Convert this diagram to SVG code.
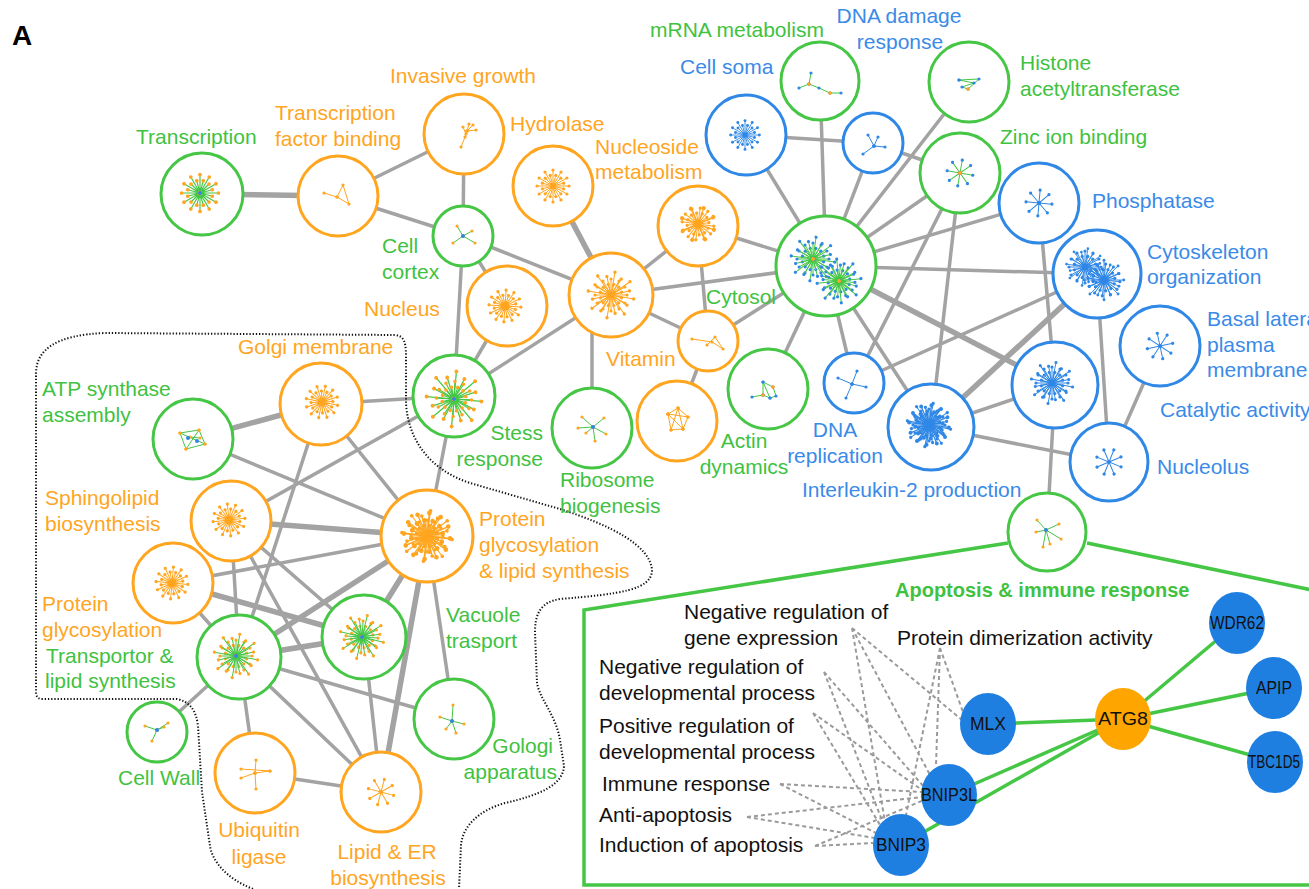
<svg xmlns="http://www.w3.org/2000/svg" width="1309" height="889" viewBox="0 0 1309 889">
<style>
text{font-family:"Liberation Sans",Arial,sans-serif}
.e{stroke:#A3A3A3;stroke-width:3.5;fill:none;stroke-linecap:round}
.et{stroke-width:5.5}
.nc{fill:#fff;stroke-width:3}
.o{stroke:#FFA51F}.g{stroke:#45C645}.b{stroke:#2F87E6}
.l{font-size:21px}
.m{text-anchor:middle}.r{text-anchor:end}
.lo{fill:#FFA51F}.lg{fill:#3FC23F}.lb{fill:#3A8AE8}
.k{font-size:21px;fill:#111}
.gn{font-size:18px;fill:#111;text-anchor:middle}
.so{fill:none;stroke:#FFA51F;stroke-width:1;marker-start:url(#mo);marker-mid:url(#mo);marker-end:url(#mo)}
.sb{fill:none;stroke:#2F87E6;stroke-width:1;marker-start:url(#mb);marker-mid:url(#mb);marker-end:url(#mb)}
.sgo{fill:none;stroke:#45C645;stroke-width:1;marker-start:url(#mo);marker-mid:url(#mo);marker-end:url(#mo)}
.sgb{fill:none;stroke:#45C645;stroke-width:1;marker-start:url(#mb);marker-mid:url(#mb);marker-end:url(#mb)}
.cb{fill:#2F87E6}.co{fill:#FFA51F}
.dash{stroke:#9A9A9A;stroke-width:2;stroke-dasharray:4 3;fill:none}
.ge{stroke:#45C645;stroke-width:3.5;fill:none}
.gnb{fill:#1F7FE0}.gno{fill:#FFA500}
</style>
<defs>
<marker id="mo" markerUnits="userSpaceOnUse" markerWidth="4" markerHeight="4" refX="2" refY="2"><circle cx="2" cy="2" r="1.6" fill="#FFA51F"/></marker>
<marker id="mb" markerUnits="userSpaceOnUse" markerWidth="4" markerHeight="4" refX="2" refY="2"><circle cx="2" cy="2" r="1.6" fill="#2F87E6"/></marker>
<path id="s24" d="M0,0l16,0M0,0l10.6,2.8M0,0l13.9,8M0,0l7.8,7.8M0,0l8,13.9M0,0l2.8,10.6M0,0l0,16M0,0l-2.8,10.6M0,0l-8,13.9M0,0l-7.8,7.8M0,0l-13.9,8M0,0l-10.6,2.8M0,0l-16,0M0,0l-10.6,-2.8M0,0l-13.9,-8M0,0l-7.8,-7.8M0,0l-8,-13.9M0,0l-2.8,-10.6M0,0l0,-16M0,0l2.8,-10.6M0,0l8,-13.9M0,0l7.8,-7.8M0,0l13.9,-8M0,0l10.6,-2.8"/>
<path id="s16" d="M0,0l22,0M0,0l16.6,6.9M0,0l15.6,15.6M0,0l6.9,16.6M0,0l0,22M0,0l-6.9,16.6M0,0l-15.6,15.6M0,0l-16.6,6.9M0,0l-22,0M0,0l-16.6,-6.9M0,0l-15.6,-15.6M0,0l-6.9,-16.6M0,0l0,-22M0,0l6.9,-16.6M0,0l15.6,-15.6M0,0l16.6,-6.9"/>
<path id="s8" d="M0,0l13,0M0,0l9.2,9.2M0,0l0,13M0,0l-9.2,9.2M0,0l-13,0M0,0l-9.2,-9.2M0,0l0,-13M0,0l9.2,-9.2"/>
</defs>
<rect width="1309" height="889" fill="#fff"/>
<text x="12" y="45" font-size="28" font-weight="bold" fill="#000">A</text>

<g id="connectors">
<line class="e" x1="338" y1="196" x2="464" y2="134"/>
<line class="e" x1="338" y1="196" x2="463" y2="236"/>
<line class="e" x1="464" y1="134" x2="463" y2="236"/>
<line class="e" x1="463" y1="236" x2="507" y2="306"/>
<line class="e" x1="463" y1="236" x2="611" y2="295"/>
<line class="e" x1="463" y1="236" x2="454" y2="396"/>
<line class="e" x1="507" y1="306" x2="454" y2="396"/>
<line class="e" x1="698" y1="226" x2="611" y2="295"/>
<line class="e" x1="698" y1="226" x2="826" y2="266"/>
<line class="e" x1="698" y1="226" x2="708" y2="341"/>
<line class="e" x1="611" y1="295" x2="708" y2="341"/>
<line class="e" x1="611" y1="295" x2="454" y2="396"/>
<line class="e" x1="592" y1="300" x2="592" y2="428"/>
<line class="e" x1="611" y1="295" x2="826" y2="266"/>
<line class="e" x1="708" y1="341" x2="677" y2="421"/>
<line class="e" x1="708" y1="341" x2="826" y2="266"/>
<line class="e" x1="826" y1="266" x2="768" y2="389"/>
<line class="e" x1="826" y1="266" x2="746" y2="135"/>
<line class="e" x1="826" y1="266" x2="820" y2="81"/>
<line class="e" x1="826" y1="266" x2="873" y2="143"/>
<line class="e" x1="826" y1="266" x2="969" y2="82"/>
<line class="e" x1="826" y1="266" x2="960" y2="173"/>
<line class="e" x1="826" y1="266" x2="1039" y2="203"/>
<line class="e" x1="826" y1="266" x2="1097" y2="274"/>
<line class="e" x1="826" y1="266" x2="854" y2="383"/>
<line class="e" x1="826" y1="266" x2="931" y2="427"/>
<line class="e" x1="746" y1="135" x2="873" y2="143"/>
<line class="e" x1="873" y1="143" x2="960" y2="173"/>
<line class="e" x1="960" y1="173" x2="854" y2="383"/>
<line class="e" x1="960" y1="173" x2="931" y2="427"/>
<line class="e" x1="1039" y1="203" x2="1055" y2="385"/>
<line class="e" x1="1097" y1="274" x2="854" y2="383"/>
<line class="e" x1="1097" y1="274" x2="1109" y2="462"/>
<line class="e" x1="1160" y1="346" x2="1109" y2="462"/>
<line class="e" x1="931" y1="427" x2="1055" y2="385"/>
<line class="e" x1="931" y1="427" x2="1109" y2="462"/>
<line class="e" x1="1055" y1="385" x2="1047" y2="532"/>
<line class="e" x1="454" y1="396" x2="321" y2="404"/>
<line class="e" x1="454" y1="396" x2="231" y2="521"/>
<line class="e" x1="454" y1="396" x2="427" y2="536"/>
<line class="e" x1="193" y1="439" x2="427" y2="536"/>
<line class="e" x1="321" y1="404" x2="427" y2="536"/>
<line class="e" x1="321" y1="404" x2="239" y2="657"/>
<line class="e" x1="231" y1="521" x2="364" y2="637"/>
<line class="e" x1="231" y1="521" x2="381" y2="792"/>
<line class="e" x1="231" y1="521" x2="239" y2="657"/>
<line class="e" x1="173" y1="583" x2="427" y2="536"/>
<line class="e" x1="173" y1="583" x2="239" y2="657"/>
<line class="e" x1="239" y1="657" x2="454" y2="719"/>
<line class="e" x1="239" y1="657" x2="157" y2="732"/>
<line class="e" x1="239" y1="657" x2="255" y2="773"/>
<line class="e" x1="239" y1="657" x2="381" y2="792"/>
<line class="e" x1="427" y1="536" x2="454" y2="719"/>
<line class="e" x1="364" y1="637" x2="381" y2="792"/>
<line class="e" x1="255" y1="773" x2="381" y2="792"/>
<line class="e et" x1="202" y1="194" x2="338" y2="196"/>
<line class="e et" x1="553" y1="186" x2="611" y2="295"/>
<line class="e et" x1="321" y1="404" x2="193" y2="439"/>
<line class="e et" x1="231" y1="521" x2="427" y2="536"/>
<line class="e et" x1="173" y1="583" x2="364" y2="637"/>
<line class="e et" x1="239" y1="657" x2="427" y2="536"/>
<line class="e et" x1="239" y1="657" x2="364" y2="637"/>
<line class="e et" x1="427" y1="536" x2="381" y2="792"/>
<line class="e et" x1="427" y1="536" x2="364" y2="637"/>
<line class="e et" x1="826" y1="266" x2="1055" y2="385"/>
<line class="e et" x1="1097" y1="274" x2="931" y2="427"/>
</g>

<path id="cluster-boundary" d="M253,889 C225,878 212,860 210,846 L202,792 L198,726 C196,710 190,702 177,699 L42,699 C37,699 36,696 36,690 L36,374 C36,350 55,335 105,333 L395,335 C403,336 406,340 406,356 L406,403 C408,440 430,470 470,483 L560,509 C610,525 650,545 652,570 C652,590 620,594 560,599 C540,602 535,615 535,632 L537,683 C540,700 556,715 560,740 L564,766 C563,785 540,795 505,803 C480,810 463,825 461,845 L459,889" fill="none" stroke="#111" stroke-width="2" stroke-dasharray="1.3 1.9"/>

<g id="n-transcription"><circle class="nc g" cx="202" cy="194" r="41"/><use href="#s24" class="sgo" transform="translate(200,193) scale(1.15)"/><circle class="cb" cx="200" cy="193" r="2"/><text class="l lg" x="136" y="144">Transcription</text></g>
<g id="n-tf-binding"><circle class="nc o" cx="338" cy="196" r="40"/><path class="so" d="M324,193L337,197L343,185L349,204L337,197"/><text class="l lo" x="275" y="120">Transcription</text><text class="l lo" x="275" y="146">factor binding</text></g>
<g id="n-invasive"><circle class="nc o" cx="464" cy="134" r="40"/><path class="so" d="M461,147L465,137L467,131L473,125M467,131L469,124M466,134L463,127M467,131L476,130"/><text class="l lo" x="390" y="83">Invasive growth</text></g>
<g id="n-hydrolase"><circle class="nc o" cx="553" cy="186" r="40"/><use href="#s24" class="so" transform="translate(553,186)"/><text class="l lo" x="510" y="131">Hydrolase</text></g>
<g id="n-nucleoside"><circle class="nc o" cx="698" cy="226" r="40"/><use href="#s24" class="so" transform="translate(698,224) rotate(8)"/><use href="#s8" class="so" transform="translate(698,224) rotate(20) scale(1.3)"/><text class="l lo" x="595" y="154">Nucleoside</text><text class="l lo" x="595" y="179">metabolism</text></g>
<g id="n-cell-cortex"><circle class="nc g" cx="463" cy="236" r="30"/><path class="sgo" d="M463,236L457,226M463,236L472,231M463,236L453,243M463,236L475,243"/><circle class="cb" cx="463" cy="236" r="2"/><text class="l lg" x="382" y="253">Cell</text><text class="l lg" x="382" y="279">cortex</text></g>
<g id="n-nucleus"><circle class="nc o" cx="507" cy="306" r="40"/><use href="#s24" class="so" transform="translate(505,306) rotate(4)"/><text class="l lo" x="364" y="316">Nucleus</text></g>
<g id="n-orange-hub"><circle class="nc o" cx="611" cy="295" r="42"/><use href="#s24" class="so" transform="translate(611,295)"/><use href="#s16" class="so" transform="translate(611,295) rotate(10) scale(1.05)"/></g>
<g id="n-vitamin"><circle class="nc o" cx="708" cy="341" r="30"/><path class="so" d="M692,339L712,342L723,349L715,337L707,345"/><text class="l lo" x="606" y="366">Vitamin</text></g>
<g id="n-cytosol"><circle class="nc g" cx="826" cy="266" r="50"/><use href="#s24" class="sgb" transform="translate(813,259)"/><use href="#s16" class="sgb" transform="translate(813,259) rotate(8)"/><use href="#s24" class="sgb" transform="translate(839,281) rotate(5)"/><use href="#s16" class="sgb" transform="translate(839,281) rotate(-6)"/><circle class="co" cx="813" cy="259" r="2"/><circle class="co" cx="839" cy="281" r="2"/><text class="l lg" x="706" y="304">Cytosol</text></g>
<g id="n-mrna"><circle class="nc g" cx="820" cy="81" r="39"/><path class="sgb" d="M811,73L809,84L799,88M809,84L819,88L830,93L841,93"/><circle class="co" cx="809" cy="84" r="1.8"/><circle class="co" cx="830" cy="93" r="1.8"/><text class="l lg" x="650" y="37">mRNA metabolism</text></g>
<g id="n-cell-soma"><circle class="nc b" cx="746" cy="135" r="40"/><use href="#s24" class="sb" transform="translate(745,135) scale(0.9)"/><text class="l lb" x="680" y="74">Cell soma</text></g>
<g id="n-dna-damage"><circle class="nc b" cx="873" cy="143" r="30"/><path class="sb" d="M874,146L868,135M874,146L863,154M874,146L885,147M874,146L878,137"/><text class="l lb m" x="899" y="23">DNA damage</text><text class="l lb m" x="900" y="49">response</text></g>
<g id="n-histone"><circle class="nc g" cx="969" cy="82" r="40"/><path class="sgb" d="M959,80L979,79L968,89L962,87L974,83L959,80"/><circle class="co" cx="968" cy="89" r="1.8"/><text class="l lg" x="1020" y="70">Histone</text><text class="l lg" x="1020" y="96">acetyltransferase</text></g>
<g id="n-zinc"><circle class="nc g" cx="960" cy="173" r="40"/><use href="#s8" class="sgb" transform="translate(960,173) rotate(10)"/><circle class="co" cx="960" cy="173" r="2"/><text class="l lg" x="1000" y="144">Zinc ion binding</text></g>
<g id="n-phosphatase"><circle class="nc b" cx="1039" cy="203" r="40"/><use href="#s8" class="sb" transform="translate(1039,203) rotate(5)"/><text class="l lb" x="1092" y="208">Phosphatase</text></g>
<g id="n-cytoskeleton"><circle class="nc b" cx="1097" cy="274" r="44"/><use href="#s24" class="sb" transform="translate(1085,267)"/><use href="#s16" class="sb" transform="translate(1085,267) rotate(9) scale(0.85)"/><use href="#s24" class="sb" transform="translate(1104,280) rotate(6)"/><use href="#s16" class="sb" transform="translate(1104,280) scale(0.9)"/><text class="l lb" x="1147" y="259">Cytoskeleton</text><text class="l lb" x="1147" y="284">organization</text></g>
<g id="n-basal-lateral"><circle class="nc b" cx="1160" cy="346" r="40"/><use href="#s8" class="sb" transform="translate(1160,346) rotate(-12)"/><text class="l lb" x="1207" y="326">Basal lateral</text><text class="l lb" x="1207" y="352">plasma</text><text class="l lb" x="1207" y="377">membrane</text></g>
<g id="n-catalytic"><circle class="nc b" cx="1055" cy="385" r="43"/><use href="#s24" class="sb" transform="translate(1052,383)"/><use href="#s16" class="sb" transform="translate(1052,383) rotate(11) scale(0.95)"/><text class="l lb" x="1160" y="417">Catalytic activity</text></g>
<g id="n-nucleolus"><circle class="nc b" cx="1109" cy="462" r="39"/><use href="#s8" class="sb" transform="translate(1109,462) rotate(22)"/><text class="l lb" x="1157" y="474">Nucleolus</text></g>
<g id="n-interleukin"><circle class="nc b" cx="931" cy="427" r="43"/><use href="#s24" class="sb" transform="translate(929,425)"/><use href="#s16" class="sb" transform="translate(929,425) rotate(11)"/><use href="#s24" class="sb" transform="translate(929,425) rotate(7) scale(1.25)"/><text class="l lb" x="802" y="497">Interleukin-2 production</text></g>
<g id="n-dna-replication"><circle class="nc b" cx="854" cy="383" r="30"/><path class="sb" d="M852,384L838,378M852,384L866,387M852,384L846,398M852,384L857,371"/><text class="l lb m" x="835" y="437">DNA</text><text class="l lb m" x="835" y="463">replication</text></g>
<g id="n-actin"><circle class="nc g" cx="768" cy="389" r="40"/><path class="sgb" d="M752,397L763,395L763,382L773,387L776,396L770,398L763,395M763,382L770,398"/><circle class="co" cx="773" cy="387" r="1.8"/><circle class="co" cx="763" cy="395" r="1.8"/><text class="l lg m" x="744" y="448">Actin</text><text class="l lg m" x="744" y="474">dynamics</text></g>
<g id="n-orange-star"><circle class="nc o" cx="677" cy="421" r="40"/><path class="so" d="M668,414L678,408L688,417L683,429L671,430Z M668,414L688,417M678,408L683,429M668,414L683,429M678,408L671,430"/></g>
<g id="n-ribosome"><circle class="nc g" cx="592" cy="428" r="40"/><path class="sgo" d="M593,427L582,417M593,427L578,428M593,427L604,418M593,427L606,434M593,427L595,441M593,427L586,433"/><circle class="cb" cx="593" cy="427" r="2"/><text class="l lg" x="560" y="487">Ribosome</text><text class="l lg" x="560" y="513">biogenesis</text></g>
<g id="n-stress"><circle class="nc g" cx="454" cy="396" r="41"/><use href="#s16" class="sgo" transform="translate(454,399) rotate(5) scale(1.25)"/><use href="#s24" class="sgo" transform="translate(454,399) rotate(3) scale(1.1)"/><circle class="cb" cx="454" cy="399" r="2"/><text class="l lg r" x="543" y="440">Stess</text><text class="l lg r" x="543" y="466">response</text></g>
<g id="n-apoptosis"><circle class="nc g" cx="1047" cy="532" r="39"/><path class="sgo" d="M1046,530L1037,520M1046,530L1036,532M1046,530L1050,544M1046,530L1059,524M1046,530L1061,539M1046,530L1043,547"/><circle class="cb" cx="1046" cy="530" r="2"/></g>
<g id="n-golgi-membrane"><circle class="nc o" cx="321" cy="404" r="41"/><use href="#s24" class="so" transform="translate(322,402) rotate(12)"/><text class="l lo" x="238" y="354">Golgi membrane</text></g>
<g id="n-atp"><circle class="nc g" cx="193" cy="439" r="40"/><path class="sgo" d="M180,433L199,430L205,444L186,449L180,433L205,444M199,430L186,449M190,437L200,438"/><circle class="cb" cx="188" cy="438" r="2"/><circle class="cb" cx="197" cy="441" r="2"/><text class="l lg" x="42" y="396">ATP synthase</text><text class="l lg" x="42" y="422">assembly</text></g>
<g id="n-sphingolipid"><circle class="nc o" cx="231" cy="521" r="40"/><use href="#s24" class="so" transform="translate(229,520) rotate(-6)"/><text class="l lo" x="45" y="505">Sphingolipid</text><text class="l lo" x="45" y="531">biosynthesis</text></g>
<g id="n-protein-glyco-lipid"><circle class="nc o" cx="427" cy="536" r="46"/><use href="#s24" class="so" transform="translate(427,536)"/><use href="#s16" class="so" transform="translate(427,536) rotate(8) scale(1.15)"/><use href="#s24" class="so" transform="translate(427,536) rotate(6) scale(1.45)"/><text class="l lo" x="479" y="526">Protein</text><text class="l lo" x="479" y="552">glycosylation</text><text class="l lo" x="479" y="578">&amp; lipid synthesis</text></g>
<g id="n-protein-glyco"><circle class="nc o" cx="173" cy="583" r="40"/><use href="#s24" class="so" transform="translate(172,583) rotate(5)"/><text class="l lo" x="42" y="611">Protein</text><text class="l lo" x="42" y="637">glycosylation</text></g>
<g id="n-transportor"><circle class="nc g" cx="239" cy="657" r="42"/><use href="#s24" class="sgo" transform="translate(236,656)"/><use href="#s16" class="sgo" transform="translate(236,656) rotate(10)"/><circle class="cb" cx="236" cy="656" r="2"/><text class="l lg" x="46" y="663">Transportor &amp;</text><text class="l lg" x="45" y="688">lipid synthesis</text></g>
<g id="n-vacuole"><circle class="nc g" cx="364" cy="637" r="42"/><use href="#s24" class="sgo" transform="translate(362,637) rotate(4)"/><use href="#s16" class="sgo" transform="translate(362,637) rotate(14)"/><circle class="cb" cx="362" cy="637" r="2"/><text class="l lg" x="446" y="622">Vacuole</text><text class="l lg" x="446" y="648">trasport</text></g>
<g id="n-golgi-apparatus"><circle class="nc g" cx="454" cy="719" r="40"/><path class="sgo" d="M452,721L453,705M452,721L440,717M452,721L464,724M452,721L456,733M452,721L446,729"/><circle class="cb" cx="452" cy="721" r="2"/><text class="l lg r" x="553" y="753">Gologi</text><text class="l lg r" x="557" y="779">apparatus</text></g>
<g id="n-cell-wall"><circle class="nc g" cx="157" cy="732" r="30"/><path class="sgo" d="M157,730L145,726M157,730L168,723M157,730L164,727M157,730L152,741"/><circle class="cb" cx="157" cy="730" r="2"/><text class="l lg" x="118" y="785">Cell Wall</text></g>
<g id="n-ubiquitin"><circle class="nc o" cx="255" cy="773" r="40"/><path class="so" d="M255,773L241,778M255,773L270,771M255,773L256,760M255,773L256,789M241,769L270,771"/><text class="l lo m" x="259" y="837">Ubiquitin</text><text class="l lo m" x="259" y="864">ligase</text></g>
<g id="n-lipid-er"><circle class="nc o" cx="381" cy="792" r="40"/><use href="#s8" class="so" transform="translate(381,792) rotate(15)"/><text class="l lo m" x="387" y="859">Lipid &amp; ER</text><text class="l lo m" x="388" y="885">biosynthesis</text></g>

<g id="inset">
<path class="ge" d="M1008,543 L584,610 L584,885 L1312,885 M1087,543 L1312,590"/>
<text x="895" y="597" font-size="20" font-weight="bold" fill="#3FC23F">Apoptosis &amp; immune response</text>
<text class="k" x="684" y="619">Negative regulation of</text>
<text class="k" x="684" y="645">gene expression</text>
<text class="k" x="897" y="645">Protein dimerization activity</text>
<text class="k" x="599" y="674">Negative regulation of</text>
<text class="k" x="599" y="700">developmental process</text>
<text class="k" x="599" y="733">Positive regulation of</text>
<text class="k" x="599" y="759">developmental process</text>
<text class="k" x="602" y="791">Immune response</text>
<text class="k" x="599" y="822">Anti-apoptosis</text>
<text class="k" x="599" y="852">Induction of apoptosis</text>
<g id="inset-connectors">
<path class="dash" d="M852,628L962,720M852,628L930,775M852,628L885,822M940,648L963,712M940,648L936,765M940,648L906,815M824,672L924,787M824,672L885,828M813,713L922,790M813,713L883,830M780,784L922,792M780,784L878,834M747,817L922,797M747,817L875,838M815,846L924,800M815,846L873,843"/>
<line class="ge" x1="988" y1="724" x2="1123" y2="719"/>
<line class="ge" x1="949" y1="795" x2="1123" y2="719"/>
<line class="ge" x1="901" y1="845" x2="1123" y2="719"/>
<line class="ge" x1="1123" y1="719" x2="1237" y2="623"/>
<line class="ge" x1="1123" y1="719" x2="1274" y2="688"/>
<line class="ge" x1="1123" y1="719" x2="1275" y2="762"/>
</g>
<g id="g-mlx"><ellipse class="gnb" cx="988" cy="724" rx="28" ry="31"/><text class="gn" x="988" y="730" textLength="36" lengthAdjust="spacingAndGlyphs">MLX</text></g>
<g id="g-atg8"><ellipse class="gno" cx="1123" cy="719" rx="28" ry="31"/><text class="gn" x="1123" y="725" textLength="50" lengthAdjust="spacingAndGlyphs">ATG8</text></g>
<g id="g-wdr62"><ellipse class="gnb" cx="1237" cy="623" rx="28" ry="31"/><text class="gn" x="1237" y="629" textLength="54" lengthAdjust="spacingAndGlyphs">WDR62</text></g>
<g id="g-apip"><ellipse class="gnb" cx="1274" cy="688" rx="28" ry="31"/><text class="gn" x="1274" y="694" textLength="36" lengthAdjust="spacingAndGlyphs">APIP</text></g>
<g id="g-tbc1d5"><ellipse class="gnb" cx="1275" cy="762" rx="28" ry="31"/><text class="gn" x="1274" y="768" textLength="52" lengthAdjust="spacingAndGlyphs">TBC1D5</text></g>
<g id="g-bnip3l"><ellipse class="gnb" cx="949" cy="795" rx="28" ry="31"/><text class="gn" x="949" y="801" textLength="56" lengthAdjust="spacingAndGlyphs">BNIP3L</text></g>
<g id="g-bnip3"><ellipse class="gnb" cx="901" cy="845" rx="28" ry="31"/><text class="gn" x="901" y="851" textLength="50" lengthAdjust="spacingAndGlyphs">BNIP3</text></g>
</g>
</svg>
